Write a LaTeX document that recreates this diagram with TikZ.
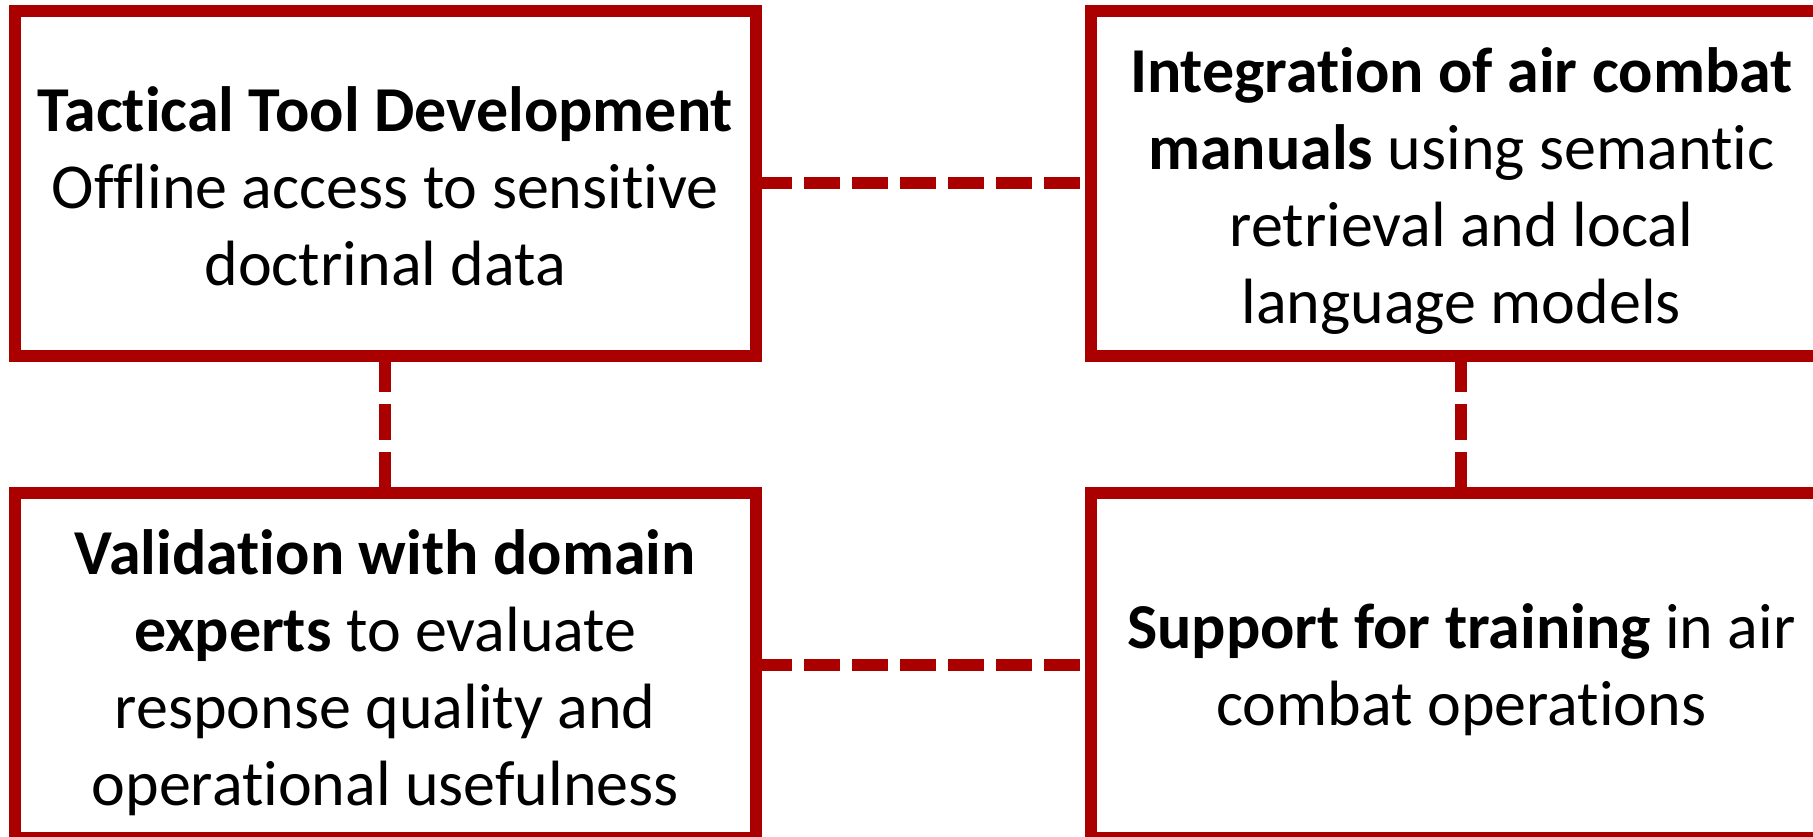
\documentclass[tikz,border=0pt]{standalone}
\usepackage{fontspec}
\setmainfont{Carlito}[Ligatures={NoCommon}]
\usetikzlibrary{backgrounds}
\definecolor{boxred}{RGB}{170,0,0}
% tall strut on the first line lowers the text block a little
\newcommand{\toplinestrut}[1][60pt]{\rule{0pt}{#1}}
\begin{document}
\begin{tikzpicture}[x=1pt,y=-1pt,
  card/.style={draw=boxred, line width=12pt, fill=white,
    minimum width=741.5pt, minimum height=345pt,
    inner sep=0pt, outer sep=0pt, align=center,
    font=\fontsize{64}{77}\selectfont},
  link/.style={draw=boxred, line width=12pt, dash pattern=on 36pt off 12pt}]
\useasboundingbox (0,0) rectangle (1813,837);
\clip (0,0) rectangle (1813,837);

% the four cards
\node[card] (tool) at (385.25,183.5)
  {\toplinestrut[51pt]\textbf{Tactical Tool Development}\\Offline access to sensitive\\doctrinal data};
\node[card] (integ) at (1461.25,183.5)
  {\toplinestrut\textbf{Integration of air combat}\\\textbf{manuals} using semantic\\retrieval and local\\language models};
\node[card] (valid) at (385.25,665.1)
  {\toplinestrut\textbf{Validation with domain}\\\textbf{experts} to evaluate\\response quality and\\operational usefulness};
\node[card] (train) at (1461.25,665.1)
  {\toplinestrut[55pt]\textbf{Support for training} in air\\combat operations};

% dashed links, drawn beneath the cards
\begin{pgfonlayer}{background}
  \draw[link] (tool.east) -- (integ.west);
  \draw[link] (valid.east) -- (train.west);
  \draw[link] (tool.south) -- (valid.north);
  \draw[link] (integ.south) -- (train.north);
\end{pgfonlayer}
\end{tikzpicture}
\end{document}
